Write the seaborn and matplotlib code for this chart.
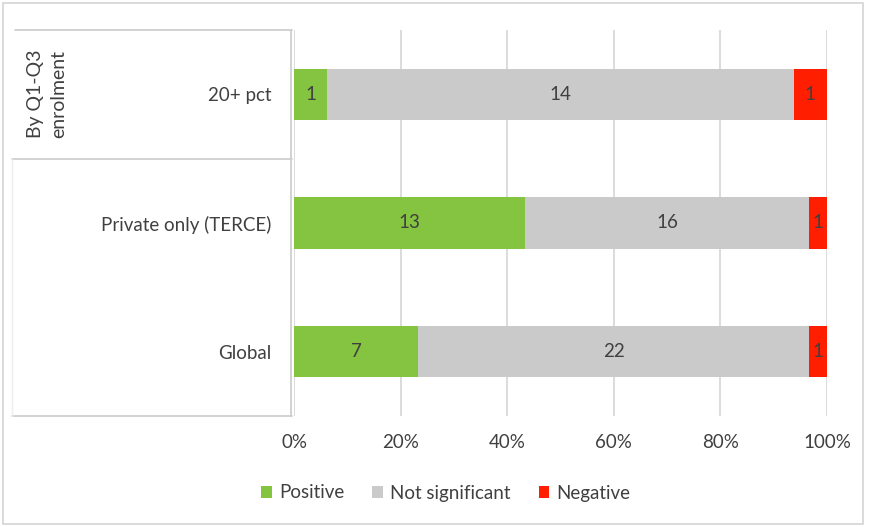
import matplotlib
matplotlib.use("Agg")
import matplotlib.pyplot as plt
from matplotlib.lines import Line2D
from matplotlib.patches import Patch, Rectangle
import numpy as np
import pandas as pd
import seaborn as sns

# Study counts per specification
categories = ["20+ pct", "Private only (TERCE)", "Global"]
positive = [1, 13, 7]
not_significant = [14, 16, 22]
negative = [1, 1, 1]
series_names = ["Positive", "Not significant", "Negative"]
tick_labels = ["0%", "20%", "40%", "60%", "80%", "100%"]
group_label = "By Q1-Q3\nenrolment"

colors = {"Positive": "#84C441", "Not significant": "#CACACA", "Negative": "#FF1F00"}
text_color = "#404040"
line_color = "#CFCFCF"
fs = 13.5

sns.set_theme(style="white")
plt.rcParams["font.family"] = ["Lato", "DejaVu Sans"]

pos = np.array(positive, dtype=float)
ns = np.array(not_significant, dtype=float)
neg = np.array(negative, dtype=float)
total = pos + ns + neg

df = pd.DataFrame({
    "category": categories,
    "pos_pct": pos / total * 100,
    "ns_pct": ns / total * 100,
    "neg_pct": neg / total * 100,
})
df["cum_pos"] = df["pos_pct"]
df["cum_ns"] = df["pos_pct"] + df["ns_pct"]
df["cum_all"] = df["cum_ns"] + df["neg_pct"]

fig = plt.figure(figsize=(8.71, 5.27), dpi=100)
ax = fig.add_axes([294 / 871, 1 - 416 / 527, (827 - 294) / 871, (416 - 30) / 527])

# Stacked bars drawn as cumulative layers (widest first)
for col, name in [("cum_all", "Negative"), ("cum_ns", "Not significant"), ("cum_pos", "Positive")]:
    sns.barplot(data=df, x=col, y="category", order=categories, orient="h",
                color=colors[name], width=0.4, saturation=1, ax=ax, zorder=3,
                linewidth=0)

# Segment value labels
for i, cat in enumerate(categories):
    starts = [0, df["cum_pos"][i], df["cum_ns"][i]]
    widths = [df["pos_pct"][i], df["ns_pct"][i], df["neg_pct"][i]]
    values = [positive[i], not_significant[i], negative[i]]
    for s, w, v in zip(starts, widths, values):
        ax.text(s + w / 2, i, str(v), ha="center", va="center",
                fontsize=fs, color=text_color, zorder=5)

ax.set_xlim(0, 100)
ax.set_ylim(2.5, -0.5)
ax.set_xticks([0, 20, 40, 60, 80, 100])
ax.set_xticklabels(tick_labels)
ax.set_xlabel("")
ax.set_ylabel("")
ax.tick_params(axis="both", length=0, labelsize=fs, colors=text_color)
ax.tick_params(axis="x", pad=13)
ax.tick_params(axis="y", pad=14)
ax.grid(axis="x", color="#D9D9D9", linewidth=1.3, zorder=0)
ax.set_axisbelow(True)
for side in ["top", "right", "bottom"]:
    ax.spines[side].set_visible(False)
ax.spines["left"].set_color(line_color)
ax.spines["left"].set_linewidth(1.3)
ax.spines["left"].set_position(("outward", 2))

# Category table lines on the left
def fx(px):
    return px / 871

def fy(py):
    return 1 - py / 527

for y0, x0 in [(30, 15), (159, 12), (416, 12)]:
    fig.add_artist(Line2D([fx(x0), fx(292)], [fy(y0), fy(y0)], color=line_color,
                          linewidth=1.3, transform=fig.transFigure))
fig.add_artist(Line2D([fx(12), fx(12)], [fy(159), fy(416)], color="#EDEDED",
                      linewidth=1.0, transform=fig.transFigure))

# Group label for the grouped row
fig.text(fx(47), fy(94), group_label, rotation=90, ha="center", va="center",
         fontsize=fs + 0.5, color=text_color, linespacing=1.5)

# Outer chart frame
fig.add_artist(Rectangle((fx(3), fy(524)), fx(863) - fx(3), fy(3) - fy(524),
                         fill=False, edgecolor="#D4D4D4", linewidth=1.2,
                         transform=fig.transFigure))

# Legend
handles = [Patch(facecolor=colors[n], edgecolor="none", label=n) for n in series_names]
fig.legend(handles=handles, loc="center", bbox_to_anchor=(fx(446), fy(493)), ncol=3,
           frameon=False, fontsize=fs, handlelength=0.55, handleheight=0.55,
           handletextpad=0.4, columnspacing=1.5, labelcolor=text_color)

fig.savefig("out.png", dpi=100, facecolor="white")
